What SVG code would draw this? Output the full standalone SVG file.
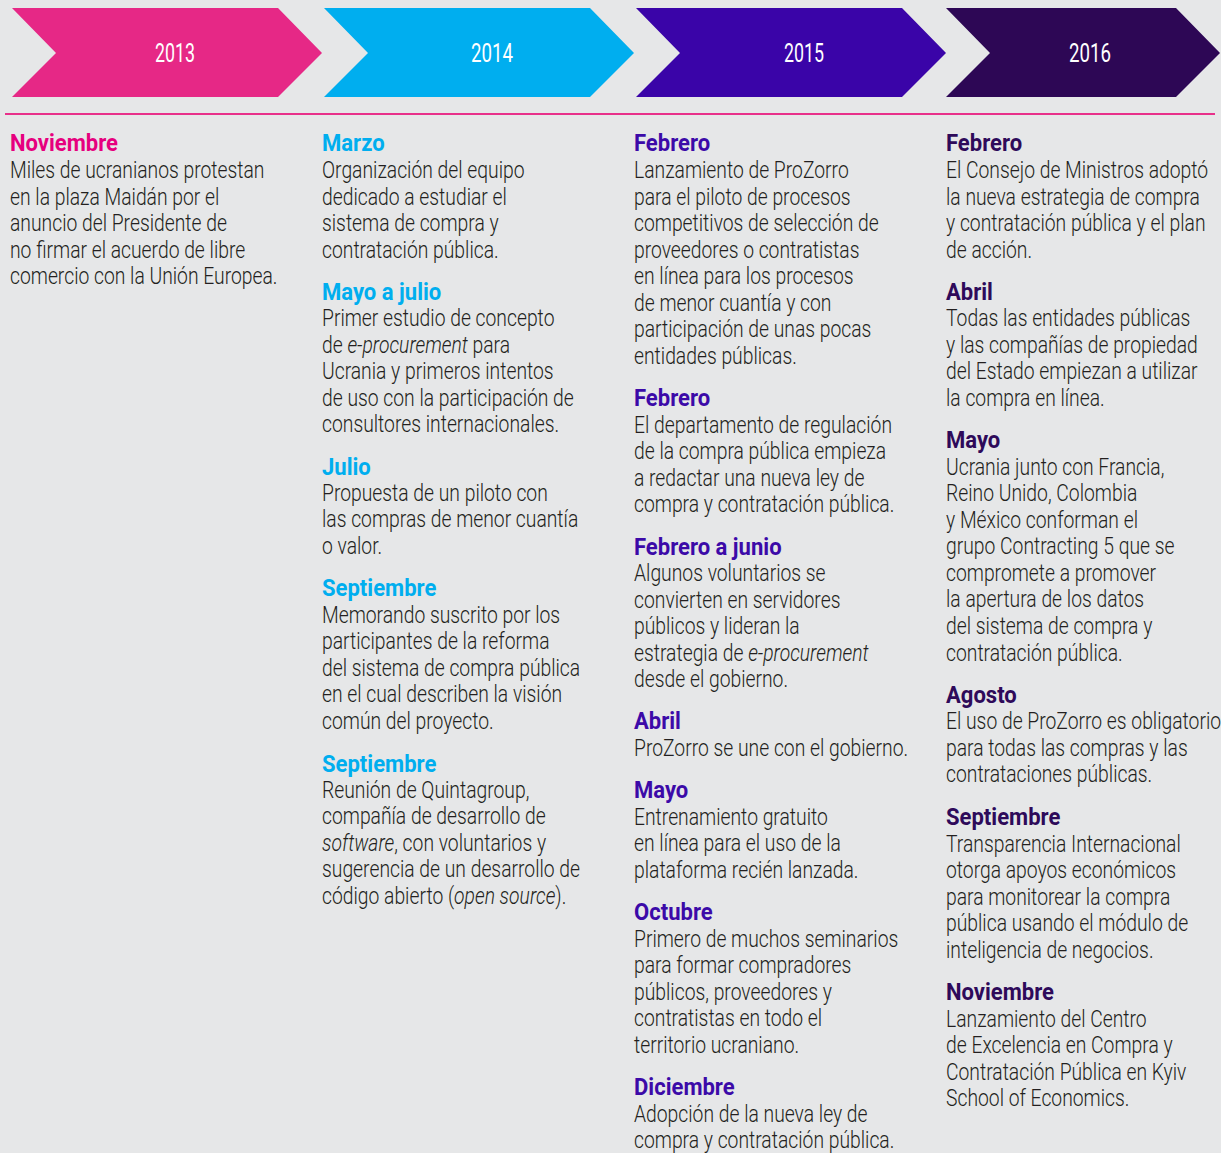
<svg xmlns="http://www.w3.org/2000/svg" width="1221" height="1153" viewBox="0 0 1221 1153">
  <style>
    .bg { fill: #e6e7e8; }
    .yr { font-family: Roboto, "Liberation Sans", sans-serif; font-size: 26px; font-weight: 400; fill: #ffffff; text-anchor: middle; }
    .h { font-family: Roboto, "Liberation Sans", sans-serif; font-size: 24.5px; font-weight: bold; }
    .b { font-family: Roboto, "Liberation Sans", sans-serif; font-size: 23px; font-weight: 300; fill: #231f20; }
    .i { font-style: italic; }
    .c13 { fill: #e6007e; }
    .c14 { fill: #00aeef; }
    .c15 { fill: #3c0aa8; }
    .c16 { fill: #2e0a5a; }
  </style>
  <rect class="bg" x="0" y="0" width="1221" height="1153"/>

  <!-- year chevrons -->
  <g id="year-2013">
    <polygon points="12,8 278,8 322,53 278,97 12,97 56,53" fill="#e62886"/>
    <text class="yr" x="175" y="62" textLength="40" lengthAdjust="spacingAndGlyphs">2013</text>
  </g>
  <g id="year-2014">
    <polygon points="324,8 590,8 634,53 590,97 324,97 368,53" fill="#00aeef"/>
    <text class="yr" x="492" y="62" textLength="42" lengthAdjust="spacingAndGlyphs">2014</text>
  </g>
  <g id="year-2015">
    <polygon points="636,8 902,8 946,53 902,97 636,97 680,53" fill="#3a04a8"/>
    <text class="yr" x="804" y="62" textLength="40" lengthAdjust="spacingAndGlyphs">2015</text>
  </g>
  <g id="year-2016">
    <polygon points="946,8 1176,8 1220,53 1176,97 946,97 990,53" fill="#2d0755"/>
    <text class="yr" x="1090" y="62" textLength="42" lengthAdjust="spacingAndGlyphs">2016</text>
  </g>

  <!-- divider -->
  <line x1="5" y1="114" x2="1215" y2="114" stroke="#e8308a" stroke-width="2"/>

  <!-- 2013 events; headings squeezed to 0.9, body text to 0.84 for a condensed face -->
  <g id="col-2013" transform="translate(10,0)">
    <g id="ev-2013-nov">
      <text class="h c13" transform="matrix(0.9 0 0 1 0 -1)" y="152">Noviembre</text>
      <g transform="matrix(0.84 0 0 1 0 -2)">
        <text class="b" y="180">Miles de ucranianos protestan</text>
        <text class="b" y="207">en la plaza Maidán por el</text>
        <text class="b" y="233">anuncio del Presidente de</text>
        <text class="b" y="260">no firmar el acuerdo de libre</text>
        <text class="b" y="286">comercio con la Unión Europea.</text>
      </g>
    </g>
  </g>

  <!-- 2014 events -->
  <g id="col-2014" transform="translate(322,0)">
    <g id="ev-2014-mar">
      <text class="h c14" transform="matrix(0.9 0 0 1 0 -1)" y="152">Marzo</text>
      <g transform="matrix(0.84 0 0 1 0 -2)">
        <text class="b" y="180">Organización del equipo</text>
        <text class="b" y="207">dedicado a estudiar el</text>
        <text class="b" y="233">sistema de compra y</text>
        <text class="b" y="260">contratación pública.</text>
      </g>
    </g>
    <g id="ev-2014-may">
      <text class="h c14" transform="matrix(0.9 0 0 1 0 -1)" y="301">Mayo a julio</text>
      <g transform="matrix(0.84 0 0 1 0 -2)">
        <text class="b" y="328">Primer estudio de concepto</text>
        <text class="b" y="355">de <tspan class="i">e-procurement</tspan> para</text>
        <text class="b" y="381">Ucrania y primeros intentos</text>
        <text class="b" y="408">de uso con la participación de</text>
        <text class="b" y="434">consultores internacionales.</text>
      </g>
    </g>
    <g id="ev-2014-jul">
      <text class="h c14" transform="matrix(0.9 0 0 1 0 -1)" y="476">Julio</text>
      <g transform="matrix(0.84 0 0 1 0 -2)">
        <text class="b" y="503">Propuesta de un piloto con</text>
        <text class="b" y="529">las compras de menor cuantía</text>
        <text class="b" y="556">o valor.</text>
      </g>
    </g>
    <g id="ev-2014-sep1">
      <text class="h c14" transform="matrix(0.9 0 0 1 0 -1)" y="597">Septiembre</text>
      <g transform="matrix(0.84 0 0 1 0 -2)">
        <text class="b" y="625">Memorando suscrito por los</text>
        <text class="b" y="651">participantes de la reforma</text>
        <text class="b" y="678">del sistema de compra pública</text>
        <text class="b" y="704">en el cual describen la visión</text>
        <text class="b" y="731">común del proyecto.</text>
      </g>
    </g>
    <g id="ev-2014-sep2">
      <text class="h c14" transform="matrix(0.9 0 0 1 0 -1)" y="773">Septiembre</text>
      <g transform="matrix(0.84 0 0 1 0 -2)">
        <text class="b" y="800">Reunión de Quintagroup,</text>
        <text class="b" y="826">compañía de desarrollo de</text>
        <text class="b" y="853"><tspan class="i">software</tspan>, con voluntarios y</text>
        <text class="b" y="879">sugerencia de un desarrollo de</text>
        <text class="b" y="906">código abierto (<tspan class="i">open source</tspan>).</text>
      </g>
    </g>
  </g>

  <!-- 2015 events -->
  <g id="col-2015" transform="translate(634,0)">
    <g id="ev-2015-feb1">
      <text class="h c15" transform="matrix(0.9 0 0 1 0 -1)" y="152">Febrero</text>
      <g transform="matrix(0.84 0 0 1 0 -2)">
        <text class="b" y="180">Lanzamiento de ProZorro</text>
        <text class="b" y="207">para el piloto de procesos</text>
        <text class="b" y="233">competitivos de selección de</text>
        <text class="b" y="260">proveedores o contratistas</text>
        <text class="b" y="286">en línea para los procesos</text>
        <text class="b" y="313">de menor cuantía y con</text>
        <text class="b" y="339">participación de unas pocas</text>
        <text class="b" y="366">entidades públicas.</text>
      </g>
    </g>
    <g id="ev-2015-feb2">
      <text class="h c15" transform="matrix(0.9 0 0 1 0 -1)" y="407">Febrero</text>
      <g transform="matrix(0.84 0 0 1 0 -2)">
        <text class="b" y="435">El departamento de regulación</text>
        <text class="b" y="461">de la compra pública empieza</text>
        <text class="b" y="488">a redactar una nueva ley de</text>
        <text class="b" y="514">compra y contratación pública.</text>
      </g>
    </g>
    <g id="ev-2015-feb-jun">
      <text class="h c15" transform="matrix(0.9 0 0 1 0 -1)" y="556">Febrero a junio</text>
      <g transform="matrix(0.84 0 0 1 0 -2)">
        <text class="b" y="583">Algunos voluntarios se</text>
        <text class="b" y="610">convierten en servidores</text>
        <text class="b" y="636">públicos y lideran la</text>
        <text class="b" y="663">estrategia de <tspan class="i">e-procurement</tspan></text>
        <text class="b" y="689">desde el gobierno.</text>
      </g>
    </g>
    <g id="ev-2015-abr">
      <text class="h c15" transform="matrix(0.9 0 0 1 0 -1)" y="730">Abril</text>
      <g transform="matrix(0.84 0 0 1 0 -2)">
        <text class="b" y="758">ProZorro se une con el gobierno.</text>
      </g>
    </g>
    <g id="ev-2015-may">
      <text class="h c15" transform="matrix(0.9 0 0 1 0 -1)" y="799">Mayo</text>
      <g transform="matrix(0.84 0 0 1 0 -2)">
        <text class="b" y="827">Entrenamiento gratuito</text>
        <text class="b" y="853">en línea para el uso de la</text>
        <text class="b" y="880">plataforma recién lanzada.</text>
      </g>
    </g>
    <g id="ev-2015-oct">
      <text class="h c15" transform="matrix(0.9 0 0 1 0 -1)" y="921">Octubre</text>
      <g transform="matrix(0.84 0 0 1 0 -2)">
        <text class="b" y="949">Primero de muchos seminarios</text>
        <text class="b" y="975">para formar compradores</text>
        <text class="b" y="1002">públicos, proveedores y</text>
        <text class="b" y="1028">contratistas en todo el</text>
        <text class="b" y="1055">territorio ucraniano.</text>
      </g>
    </g>
    <g id="ev-2015-dic">
      <text class="h c15" transform="matrix(0.9 0 0 1 0 -1)" y="1096">Diciembre</text>
      <g transform="matrix(0.84 0 0 1 0 -2)">
        <text class="b" y="1124">Adopción de la nueva ley de</text>
        <text class="b" y="1150">compra y contratación pública.</text>
      </g>
    </g>
  </g>

  <!-- 2016 events -->
  <g id="col-2016" transform="translate(946,0)">
    <g id="ev-2016-feb">
      <text class="h c16" transform="matrix(0.9 0 0 1 0 -1)" y="152">Febrero</text>
      <g transform="matrix(0.84 0 0 1 0 -2)">
        <text class="b" y="180">El Consejo de Ministros adoptó</text>
        <text class="b" y="207">la nueva estrategia de compra</text>
        <text class="b" y="233">y contratación pública y el plan</text>
        <text class="b" y="260">de acción.</text>
      </g>
    </g>
    <g id="ev-2016-abr">
      <text class="h c16" transform="matrix(0.9 0 0 1 0 -1)" y="301">Abril</text>
      <g transform="matrix(0.84 0 0 1 0 -2)">
        <text class="b" y="328">Todas las entidades públicas</text>
        <text class="b" y="355">y las compañías de propiedad</text>
        <text class="b" y="381">del Estado empiezan a utilizar</text>
        <text class="b" y="408">la compra en línea.</text>
      </g>
    </g>
    <g id="ev-2016-may">
      <text class="h c16" transform="matrix(0.9 0 0 1 0 -1)" y="449">Mayo</text>
      <g transform="matrix(0.84 0 0 1 0 -2)">
        <text class="b" y="477">Ucrania junto con Francia,</text>
        <text class="b" y="503">Reino Unido, Colombia</text>
        <text class="b" y="530">y México conforman el</text>
        <text class="b" y="556">grupo Contracting 5 que se</text>
        <text class="b" y="583">compromete a promover</text>
        <text class="b" y="609">la apertura de los datos</text>
        <text class="b" y="636">del sistema de compra y</text>
        <text class="b" y="663">contratación pública.</text>
      </g>
    </g>
    <g id="ev-2016-ago">
      <text class="h c16" transform="matrix(0.9 0 0 1 0 -1)" y="704">Agosto</text>
      <g transform="matrix(0.84 0 0 1 0 -2)">
        <text class="b" y="731">El uso de ProZorro es obligatorio</text>
        <text class="b" y="758">para todas las compras y las</text>
        <text class="b" y="784">contrataciones públicas.</text>
      </g>
    </g>
    <g id="ev-2016-sep">
      <text class="h c16" transform="matrix(0.9 0 0 1 0 -1)" y="826">Septiembre</text>
      <g transform="matrix(0.84 0 0 1 0 -2)">
        <text class="b" y="854">Transparencia Internacional</text>
        <text class="b" y="880">otorga apoyos económicos</text>
        <text class="b" y="907">para monitorear la compra</text>
        <text class="b" y="933">pública usando el módulo de</text>
        <text class="b" y="960">inteligencia de negocios.</text>
      </g>
    </g>
    <g id="ev-2016-nov">
      <text class="h c16" transform="matrix(0.9 0 0 1 0 -1)" y="1001">Noviembre</text>
      <g transform="matrix(0.84 0 0 1 0 -2)">
        <text class="b" y="1029">Lanzamiento del Centro</text>
        <text class="b" y="1055">de Excelencia en Compra y</text>
        <text class="b" y="1082">Contratación Pública en Kyiv</text>
        <text class="b" y="1108">School of Economics.</text>
      </g>
    </g>
  </g>
</svg>
